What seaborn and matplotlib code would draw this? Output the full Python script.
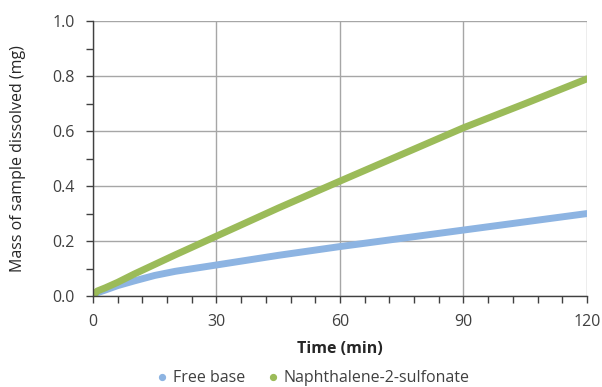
import numpy as np
import pandas as pd
import matplotlib
matplotlib.use('Agg')
import matplotlib.pyplot as plt
from matplotlib.lines import Line2D
from matplotlib.ticker import MultipleLocator
import seaborn as sns

# values
time_min = [0, 1, 3, 6, 10, 15, 20, 30, 45, 60, 75, 90, 105, 120]
free_base = [0.0, 0.012, 0.022, 0.038, 0.055, 0.075, 0.09, 0.113, 0.148, 0.18, 0.21, 0.24, 0.27, 0.30]
naphthalene = [0.0, 0.018, 0.03, 0.05, 0.08, 0.115, 0.15, 0.218, 0.32, 0.418, 0.515, 0.612, 0.70, 0.79]
series_names = ['Free base', 'Naphthalene-2-sulfonate']
series_colors = ['#8DB4E2', '#9BBB59']

df = pd.DataFrame({
    'Time': time_min * 2,
    'Mass': free_base + naphthalene,
    'Series': [series_names[0]] * len(time_min) + [series_names[1]] * len(time_min),
})

sns.set_style('white')
plt.rcParams['font.family'] = ['Open Sans', 'DejaVu Sans']

fig = plt.figure(figsize=(6.02, 3.87), dpi=100)
ax = fig.add_axes([0.1545, 0.235, 0.8205, 0.7105])

sns.lineplot(data=df, x='Time', y='Mass', hue='Series',
             palette=dict(zip(series_names, series_colors)),
             linewidth=5.0, ax=ax, legend=False, solid_capstyle='round')

ax.set_xlim(0, 120)
ax.set_ylim(0, 1.0)
ax.xaxis.set_major_locator(MultipleLocator(30))
ax.xaxis.set_minor_locator(MultipleLocator(6))
ax.yaxis.set_major_locator(MultipleLocator(0.2))
ax.yaxis.set_minor_locator(MultipleLocator(0.1))
ax.yaxis.set_major_formatter(matplotlib.ticker.FormatStrFormatter('%.1f'))

ax.grid(True, which='major', color='#a6a6a6', linewidth=1.0)
ax.set_axisbelow(True)
for side in ['top', 'right']:
    ax.spines[side].set_visible(False)
for side in ['left', 'bottom']:
    ax.spines[side].set_color('#404040')
    ax.spines[side].set_linewidth(1.0)

ax.tick_params(which='both', direction='out', color='#404040', labelcolor='#404040',
               labelsize=11.5, bottom=True, left=True)
ax.tick_params(which='major', length=5, width=1.0, pad=8)
ax.tick_params(which='minor', length=5, width=1.0)

ax.set_xlabel('Time (min)', fontsize=11.5, fontweight='bold', color='#262626', labelpad=8)
ax.set_ylabel('Mass of sample dissolved (mg)', fontsize=11.5, color='#262626', labelpad=19)

handles = [Line2D([], [], marker='o', linestyle='none', markersize=4.2,
                  markerfacecolor=c, markeredgecolor=c) for c in series_colors]
fig.legend(handles, series_names, loc='lower center', bbox_to_anchor=(0.517, -0.035),
           ncol=2, frameon=False, fontsize=11.5, handletextpad=0.1, handlelength=1.2,
           columnspacing=1.1, labelcolor='#404040')

fig.savefig('out.png', dpi=100)
